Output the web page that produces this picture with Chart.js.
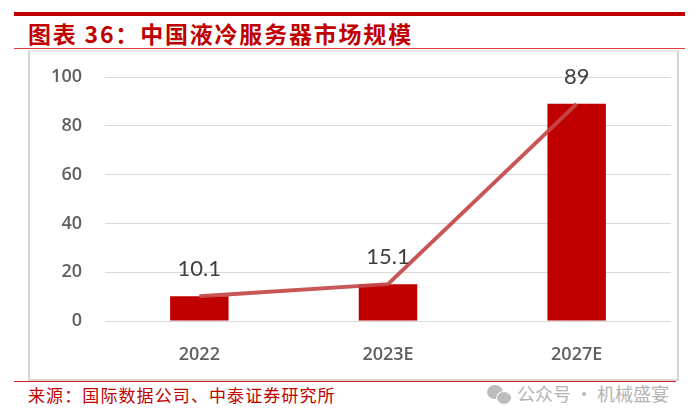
<!DOCTYPE html>
<html>
<head>
<meta charset="utf-8">
<script src="https://cdn.jsdelivr.net/npm/chart.js@4/dist/chart.umd.min.js"></script>
<style>
  body { margin: 0; width: 700px; height: 420px; background: #fff; position: relative; overflow: hidden; }
  .bar-top { position: absolute; left: 14px; top: 12px; width: 671px; height: 4px; background: #c00000; }
  .title { position: absolute; left: 28px; top: 16px; font: bold 23px "Noto Sans CJK SC", sans-serif; color: #c00000; letter-spacing: 1.8px; white-space: nowrap; }
  .rule-thin { position: absolute; left: 14px; top: 48px; width: 671px; height: 1px; background: #e03c3c; }
  .frame { position: absolute; left: 28px; top: 50px; width: 647px; height: 327px; border: 2px solid #d6d6d6; border-top-color: #e6e6e6; }
  .chart-box { position: absolute; left: 30px; top: 52px; width: 645px; height: 326px; }
  .rule-bottom { position: absolute; left: 14px; top: 381px; width: 662px; height: 1px; background: #d42020; }
  .source { position: absolute; left: 28px; top: 382px; font: 17px "Noto Sans CJK SC", sans-serif; color: #c00000; letter-spacing: 1.1px; white-space: nowrap; }
  .wm { position: absolute; left: 517px; top: 380px; font: 18px "Noto Sans CJK SC", sans-serif; color: #b4b4b4; white-space: nowrap; }
  .icon { position: absolute; left: 487px; top: 385px; width: 26px; height: 20px; }
  .icon span { position: absolute; border-radius: 50%; background: #bdbdbd; }
</style>
</head>
<body>
<div class="bar-top"></div>
<div class="title">图表 36：中国液冷服务器市场规模</div>
<div class="rule-thin"></div>
<div class="frame"></div>
<div class="chart-box"><canvas id="marketChart"></canvas></div>
<div class="rule-bottom"></div>
<div class="source">来源：国际数据公司、中泰证券研究所</div>
<div class="icon"><span style="left:0;top:0;width:16px;height:14px"></span><span style="left:9px;top:6px;width:14px;height:12px;border:1px solid #fff"></span></div>
<div class="wm">公众号 · 机械盛宴</div>

<script>
// données
const years = ['2022', '2023E', '2027E'];
const marketSize = [10.1, 15.1, 89];
const yTicks = [0, 20, 40, 60, 80, 100];

const tickFont = { size: 18, weight: '600', family: '"Open Sans", "DejaVu Sans", sans-serif' };

// étiquettes de valeur au-dessus des points de la courbe
const valueLabels = {
  id: 'valueLabels',
  afterDatasetsDraw(chart) {
    const ctx = chart.ctx;
    const meta = chart.getDatasetMeta(1);
    ctx.save();
    ctx.font = '22px Lato, "Liberation Sans", sans-serif';
    ctx.fillStyle = '#404040';
    ctx.textAlign = 'center';
    ctx.textBaseline = 'middle';
    meta.data.forEach((pt, i) => {
      ctx.fillText(String(marketSize[i]), pt.x, pt.y - 27);
    });
    ctx.restore();
  }
};

const ctx = document.getElementById('marketChart');
new Chart(ctx, {
  type: 'bar',
  data: {
    labels: years,
    datasets: [
      {
        type: 'bar',
        data: marketSize,
        backgroundColor: '#c00000',
        barPercentage: 0.31,
        categoryPercentage: 1,
        order: 2
      },
      {
        type: 'line',
        data: marketSize,
        borderColor: 'rgba(196, 72, 72, 0.92)',
        borderWidth: 4,
        pointRadius: 0,
        tension: 0,
        order: 1
      }
    ]
  },
  plugins: [valueLabels],
  options: {
    responsive: true,
    maintainAspectRatio: false,
    animation: false,
    layout: { padding: { top: 25, right: 4, left: 0, bottom: 0 } },
    plugins: { legend: { display: false }, tooltip: { enabled: false } },
    scales: {
      x: {
        grid: { display: false },
        border: { display: false },
        ticks: { color: '#5f5f5f', font: tickFont, padding: 15 },
        afterFit: axis => { axis.height = 57; axis.paddingLeft = 0; axis.paddingRight = 0; }
      },
      y: {
        min: 0,
        max: 100,
        afterBuildTicks: axis => { axis.ticks = yTicks.map(v => ({ value: v })); },
        grid: { color: '#d9d9d9', lineWidth: 1, drawTicks: false },
        border: { display: false },
        ticks: { color: '#5f5f5f', font: tickFont, padding: 23 },
        afterFit: axis => { axis.width = 75; axis.paddingTop = 0; axis.paddingBottom = 0; }
      }
    }
  }
});
</script>
</body>
</html>
